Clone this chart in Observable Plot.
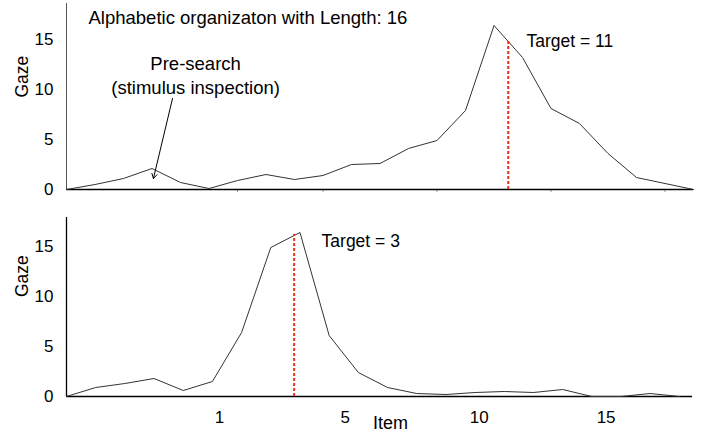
<!DOCTYPE html>
<html><head><meta charset="utf-8">
<script src="https://cdn.jsdelivr.net/npm/d3@7"></script>
<script src="https://cdn.jsdelivr.net/npm/@observablehq/plot@0.6"></script>
<style>
body{margin:0;background:#fff;}
#chart svg{display:block;}
</style></head><body><div id="chart"></div>
<script>
// Top panel (target = 11): gaze per item position
const topGaze = [0,0.5,1.1,2.1,0.7,0.1,0.9,1.5,1.0,1.4,2.5,2.6,4.1,4.9,7.9,16.4,13.2,8.1,6.6,3.6,1.2,0.6,0];
// Bottom panel (target = 3)
const bottomGaze = [0,0.9,1.3,1.8,0.6,1.5,6.4,14.9,16.4,6.1,2.4,0.9,0.3,0.2,0.4,0.5,0.4,0.7,0,0,0.3,0];
const yTicks = [0,5,10,15];
const topTickMarks = [6,9,13,17,21];
const bottomTickPos = [5.24,9.55,14.14,18.49];
const bottomTickLabels = ["1","5","10","15"];
const topTarget = {x: 15.5, y: 14.8, label: "Target = 11", lx: 16.14, ly: 14.8};
const bottomTarget = {x: 7.8, y: 16.2, label: "Target = 3", lx: 8.74, ly: 15.5};
const titleText = "Alphabetic organizaton with Length: 16";
const preSearch = {x: 4.53, y: 11.55, label: "Pre-search\n(stimulus inspection)", x1: 3.72, y1: 9.1, x2: 3.05, y2: 1.1};

const font = "'Liberation Sans', Arial, Helvetica, sans-serif";
const red = "#e8321e";
const topData = topGaze.map((g, i) => ({i, g}));
const bottomData = bottomGaze.map((g, i) => ({i, g}));

const topPlot = Plot.plot({
  width: 711, height: 200,
  marginLeft: 66, marginRight: 18, marginTop: 3, marginBottom: 11,
  style: {fontFamily: font, fontSize: "17px", color: "#000", background: "#fff", overflow: "visible"},
  x: {domain: [0, 22]},
  y: {domain: [0, 18.6]},
  marks: [
    Plot.axisY(yTicks, {tickSize: 0, tickPadding: 13, fontSize: 17, label: null}),
    Plot.axisX(topTickMarks, {tickSize: 3, tickFormat: () => "", stroke: "#999", label: null}),
    Plot.ruleX([0], {stroke: "#555", strokeWidth: 1}),
    Plot.ruleY([0], {stroke: "#000", strokeWidth: 1.6}),
    Plot.line(topData, {x: "i", y: "g", stroke: "#333", strokeWidth: 1}),
    Plot.ruleX([topTarget], {x: "x", y1: 0, y2: "y", stroke: red, strokeWidth: 2, strokeDasharray: "3,2"}),
    Plot.text([topTarget], {x: "lx", y: "ly", text: "label", textAnchor: "start", fontSize: 17.5}),
    Plot.text([titleText], {frameAnchor: "top-left", dx: 22, dy: 15, textAnchor: "start", lineAnchor: "middle", fontSize: 18.5}),
    Plot.text([preSearch], {x: "x", y: "y", text: "label", textAnchor: "middle", lineHeight: 1.3, fontSize: 18.5}),
    Plot.arrow([preSearch], {x1: "x1", y1: "y1", x2: "x2", y2: "y2", stroke: "#000", strokeWidth: 1, headLength: 8}),
    Plot.text(["Gaze"], {frameAnchor: "left", dx: -44, dy: 1, rotate: -90, fontSize: 17.5})
  ]
});

const bottomPlot = Plot.plot({
  width: 711, height: 241,
  marginLeft: 66, marginRight: 19, marginTop: 17, marginBottom: 45,
  style: {fontFamily: font, fontSize: "17px", color: "#000", background: "#fff", overflow: "visible"},
  x: {domain: [0, 21.45]},
  y: {domain: [0, 17.9]},
  marks: [
    Plot.axisY(yTicks, {tickSize: 0, tickPadding: 13, fontSize: 17, label: null}),
    Plot.axisX(bottomTickPos, {tickSize: 0, tickPadding: 14, fontSize: 17, label: null,
      tickFormat: (d) => bottomTickLabels[bottomTickPos.indexOf(d)]}),
    Plot.ruleX([0], {stroke: "#000", strokeWidth: 1.3}),
    Plot.ruleY([0], {stroke: "#000", strokeWidth: 1.3}),
    Plot.line(bottomData, {x: "i", y: "g", stroke: "#333", strokeWidth: 1}),
    Plot.ruleX([bottomTarget], {x: "x", y1: 0, y2: "y", stroke: red, strokeWidth: 2, strokeDasharray: "3,2"}),
    Plot.text([bottomTarget], {x: "lx", y: "ly", text: "label", textAnchor: "start", fontSize: 17.5}),
    Plot.text(["Gaze"], {frameAnchor: "left", dx: -44, dy: -10, rotate: -90, fontSize: 17.5}),
    Plot.text(["Item"], {frameAnchor: "bottom", dx: 11, dy: 32, fontSize: 18})
  ]
});

const chart = document.getElementById("chart");
chart.appendChild(topPlot);
chart.appendChild(bottomPlot);
</script>
</body></html>
